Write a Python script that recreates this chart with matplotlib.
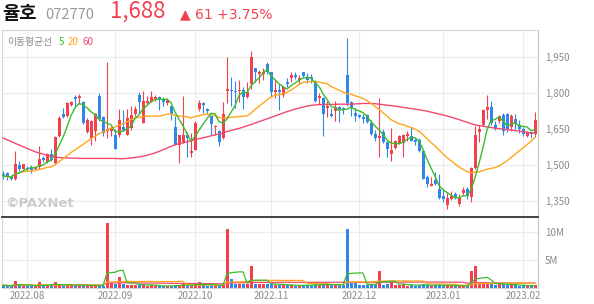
import matplotlib
matplotlib.use("Agg")
import matplotlib.pyplot as plt
import numpy as np
import pandas as pd

plt.rcParams['font.family'] = ['Noto Sans CJK KR', 'DejaVu Sans']

# daily OHLC, 2022-07-22 .. 2023-02-06
opens = [1464, 1467, 1454, 1443, 1499, 1483, 1488, 1491, 1481, 1492,
         1530, 1511, 1544, 1506, 1619, 1713, 1704, 1750, 1784, 1778,
         1763, 1637, 1612, 1640, 1785, 1699, 1640, 1640, 1626, 1626,
         1658, 1626, 1652, 1711, 1792, 1675, 1756, 1764, 1774, 1781,
         1774, 1756, 1746, 1657, 1584, 1595, 1623, 1549, 1563, 1732,
         1756, 1733, 1704, 1658, 1640, 1612, 1806, 1812, 1809, 1806,
         1812, 1784, 1837, 1905, 1880, 1877, 1919, 1887, 1805, 1812,
         1792, 1844, 1861, 1873, 1854, 1889, 1863, 1866, 1851, 1778,
         1778, 1736, 1713, 1725, 1742, 1736, 1873, 1764, 1718, 1708,
         1699, 1708, 1675, 1629, 1612, 1637, 1594, 1544, 1570, 1591,
         1591, 1619, 1619, 1605, 1605, 1556, 1450, 1412, 1436, 1401,
         1370, 1333, 1359, 1380, 1338, 1384, 1401, 1366, 1488, 1637,
         1666, 1728, 1742, 1666, 1683, 1708, 1711, 1657, 1690, 1668,
         1651, 1622, 1637, 1627]
highs = [1475, 1470, 1460, 1560, 1518, 1505, 1494, 1499, 1496, 1577,
         1537, 1551, 1567, 1622, 1702, 1739, 1760, 1767, 1792, 1795,
         1767, 1697, 1685, 1718, 1798, 1704, 1929, 1662, 1651, 1732,
         1728, 1732, 1746, 1746, 1802, 1809, 1788, 1809, 1792, 1788,
         1781, 1778, 1746, 1704, 1623, 1788, 1637, 1633, 1683, 1770,
         1760, 1739, 1704, 1668, 1647, 1764, 1950, 1868, 1851, 1854,
         1823, 1844, 1975, 1905, 1896, 1905, 1927, 1887, 1854, 1837,
         1830, 1863, 1887, 1887, 1875, 1889, 1884, 1877, 1854, 1798,
         1784, 1767, 1739, 1767, 1746, 1742, 2030, 1767, 1739, 1713,
         1713, 1711, 1685, 1647, 1778, 1651, 1601, 1654, 1605, 1623,
         1629, 1640, 1657, 1612, 1612, 1556, 1457, 1450, 1471, 1464,
         1394, 1387, 1390, 1387, 1380, 1408, 1408, 1492, 1661, 1668,
         1732, 1792, 1767, 1683, 1708, 1718, 1718, 1713, 1711, 1685,
         1657, 1640, 1643, 1722]
lows = [1443, 1436, 1436, 1436, 1474, 1481, 1476, 1468, 1477, 1485,
        1511, 1506, 1516, 1502, 1615, 1694, 1700, 1746, 1746, 1753,
        1671, 1633, 1581, 1598, 1683, 1619, 1612, 1619, 1567, 1616,
        1640, 1623, 1647, 1704, 1713, 1675, 1753, 1760, 1767, 1728,
        1746, 1750, 1688, 1584, 1506, 1591, 1535, 1535, 1563, 1725,
        1718, 1718, 1623, 1623, 1577, 1609, 1756, 1746, 1739, 1760,
        1732, 1778, 1816, 1844, 1840, 1854, 1880, 1781, 1778, 1729,
        1784, 1826, 1844, 1858, 1837, 1866, 1840, 1840, 1764, 1753,
        1619, 1699, 1699, 1683, 1680, 1711, 1746, 1704, 1683, 1694,
        1675, 1675, 1626, 1601, 1535, 1591, 1535, 1516, 1567, 1587,
        1535, 1598, 1598, 1581, 1553, 1440, 1408, 1412, 1415, 1359,
        1347, 1316, 1352, 1359, 1330, 1376, 1359, 1347, 1483, 1595,
        1661, 1690, 1668, 1647, 1675, 1623, 1637, 1640, 1651, 1633,
        1619, 1615, 1612, 1615]
closes = [1454, 1450, 1443, 1502, 1481, 1502, 1483, 1478, 1492, 1525,
          1519, 1544, 1520, 1616, 1697, 1699, 1756, 1761, 1774, 1788,
          1675, 1689, 1683, 1713, 1690, 1633, 1651, 1651, 1567, 1689,
          1644, 1697, 1708, 1732, 1764, 1767, 1767, 1784, 1781, 1770,
          1764, 1770, 1713, 1584, 1623, 1623, 1612, 1556, 1675, 1756,
          1749, 1725, 1671, 1664, 1595, 1713, 1816, 1806, 1802, 1813,
          1781, 1802, 1950, 1887, 1889, 1885, 1887, 1802, 1812, 1805,
          1826, 1835, 1873, 1866, 1863, 1871, 1854, 1856, 1767, 1788,
          1713, 1746, 1704, 1742, 1732, 1728, 1756, 1739, 1704, 1699,
          1690, 1680, 1629, 1612, 1619, 1595, 1567, 1561, 1601, 1619,
          1623, 1629, 1601, 1595, 1556, 1443, 1422, 1422, 1422, 1361,
          1359, 1361, 1369, 1366, 1361, 1397, 1370, 1488, 1623, 1651,
          1728, 1742, 1675, 1651, 1704, 1643, 1647, 1704, 1671, 1651,
          1629, 1636, 1627, 1688]
# volume in millions of shares
volumes = [0.5, 0.4, 0.3, 1.2, 0.5, 0.4, 0.3, 0.4, 0.3, 1.0,
           0.4, 0.5, 0.4, 1.1, 0.6, 0.4, 0.5, 0.6, 0.4, 0.6,
           0.5, 0.4, 0.5, 0.4, 0.5, 0.3, 11.7, 0.9, 0.8, 1.9,
           0.8, 0.6, 0.6, 0.5, 0.6, 0.7, 0.4, 0.5, 0.4, 0.3,
           0.3, 0.4, 0.4, 0.6, 0.5, 0.7, 0.4, 0.3, 0.9, 1.0,
           0.5, 0.4, 0.5, 0.4, 0.5, 0.7, 10.6, 1.6, 0.8, 0.8,
           0.7, 0.8, 3.9, 0.8, 0.8, 0.7, 0.8, 0.8, 0.5, 0.6,
           0.5, 0.5, 0.6, 0.4, 0.4, 0.6, 0.5, 0.5, 0.7, 0.5,
           0.9, 0.6, 0.5, 0.6, 0.5, 0.5, 10.7, 0.85, 0.9, 0.6,
           0.5, 0.6, 0.6, 0.7, 3.0, 0.6, 0.8, 1.0, 0.6, 0.5,
           0.7, 0.4, 0.6, 0.4, 0.5, 0.7, 0.5, 0.4, 0.5, 0.6,
           0.4, 0.5, 0.4, 0.3, 0.4, 0.3, 0.4, 3.1, 3.9, 0.9,
           0.9, 0.8, 0.9, 0.6, 0.7, 0.8, 0.6, 0.5, 0.5, 0.4,
           0.5, 0.3, 0.4, 0.6]
# 60-day moving average as drawn (needs history before the window)
ma60 = [1612, 1605, 1598, 1590, 1583, 1576, 1569, 1562, 1555, 1550,
        1545, 1540, 1536, 1533, 1531, 1530, 1529, 1528, 1528, 1527,
        1527, 1527, 1527, 1527, 1527, 1527, 1527, 1527, 1527, 1526,
        1526, 1527, 1529, 1531, 1533, 1536, 1540, 1545, 1550, 1556,
        1563, 1570, 1577, 1584, 1588, 1592, 1596, 1600, 1605, 1609,
        1613, 1617, 1621, 1625, 1629, 1634, 1639, 1643, 1648, 1652,
        1657, 1663, 1668, 1674, 1680, 1686, 1692, 1698, 1704, 1710,
        1716, 1722, 1727, 1732, 1737, 1741, 1745, 1748, 1750, 1751,
        1752, 1752, 1752, 1752, 1753, 1753, 1753, 1753, 1754, 1755,
        1756, 1756, 1756, 1755, 1753, 1751, 1749, 1747, 1745, 1742,
        1740, 1737, 1735, 1732, 1730, 1727, 1724, 1720, 1716, 1712,
        1708, 1704, 1699, 1694, 1689, 1683, 1678, 1672, 1667, 1664,
        1661, 1658, 1656, 1653, 1651, 1649, 1647, 1645, 1643, 1641,
        1638, 1636, 1633, 1631]

tick_pos = [6, 28, 48, 67, 89, 110, 130]
tick_labels = ['2022.08', '2022.09', '2022.10', '2022.11', '2022.12', '2023.01', '2023.02']
price_ticks = [1350, 1500, 1650, 1800, 1950]
vol_ticks = [5, 10]

RED = '#f2404f'
BLUE = '#2f88e8'
GREEN = '#3cbc2c'
ORANGE = '#ffa51e'
PINK = '#f04a6e'
GRID = '#ececec'
TXT = '#8a8a8a'

df = pd.DataFrame({'o': opens, 'h': highs, 'l': lows, 'c': closes, 'v': volumes})
idx = np.arange(len(df))
up = df['c'] >= df['o']
cols = np.where(up, RED, BLUE)
ma5 = df['c'].rolling(5, min_periods=1).mean()
ma20 = df['c'].rolling(20, min_periods=1).mean()
vma5 = df['v'].rolling(5, min_periods=1).mean()
vma20 = df['v'].rolling(20, min_periods=1).mean()
vma60 = df['v'].rolling(60, min_periods=1).mean()

W, H = 594, 304
fig = plt.figure(figsize=(W / 100, H / 100), dpi=100)

def box(x0, y0, x1, y1):
    return [x0 / W, 1 - y1 / H, (x1 - x0) / W, (y1 - y0) / H]

ax = fig.add_axes(box(2, 30, 538, 217))
axv = fig.add_axes(box(2, 218, 538, 288))

xlim = (-0.25, len(df) - 0.25)

# price panel
ax.vlines(idx, df['l'], df['h'], colors=cols, linewidth=0.8, zorder=3)
body = (df['c'] - df['o']).abs().clip(lower=2)
ax.bar(idx, body, bottom=df[['o', 'c']].min(axis=1), width=0.75, color=cols, zorder=3)
ax.plot(idx, ma60, color=PINK, linewidth=1.0, zorder=4)
ax.plot(idx, ma20, color=ORANGE, linewidth=1.0, zorder=4)
ax.plot(idx, ma5, color=GREEN, linewidth=1.0, zorder=4)
ax.set_xlim(*xlim)
ax.set_ylim(1283, 2062)
ax.set_yticks(price_ticks)
ax.set_yticklabels(['{:,}'.format(t) for t in price_ticks])
ax.set_xticks(tick_pos)
ax.tick_params(axis='x', length=0, labelbottom=False)
ax.yaxis.tick_right()
ax.tick_params(axis='y', length=0, pad=5, labelsize=7, labelcolor=TXT)
ax.grid(True, color=GRID, linewidth=0.8, zorder=0)
ax.set_axisbelow(True)
for s in ['top', 'left']:
    ax.spines[s].set_color('#d6d6d6')
ax.spines['right'].set_color('#c4c4c4')
ax.spines['bottom'].set_color('#333333')
ax.spines['bottom'].set_linewidth(1.3)

ax.text(0.01, 0.965, '이동평균선', transform=ax.transAxes, fontsize=7, color=TXT, va='top')
ax.text(0.106, 0.965, '5', transform=ax.transAxes, fontsize=7, color=GREEN, va='top')
ax.text(0.123, 0.965, '20', transform=ax.transAxes, fontsize=7, color=ORANGE, va='top')
ax.text(0.151, 0.965, '60', transform=ax.transAxes, fontsize=7, color=PINK, va='top')
ax.text(0.006, 0.035, '©PAXNet', transform=ax.transAxes, fontsize=9.5, color='#cccccc',
        weight='bold', family='DejaVu Sans', va='bottom')

# volume panel
axv.bar(idx, df['v'], width=0.75, color=cols, zorder=3)
axv.plot(idx, vma60, color=PINK, linewidth=0.9, zorder=4)
axv.plot(idx, vma20, color=ORANGE, linewidth=0.9, zorder=4)
axv.plot(idx, vma5, color=GREEN, linewidth=0.9, zorder=4)
axv.set_xlim(*xlim)
axv.set_ylim(0, 12.6)
axv.set_yticks(vol_ticks)
axv.set_yticklabels(['{}M'.format(t) for t in vol_ticks])
axv.set_xticks(tick_pos)
axv.set_xticklabels(tick_labels)
axv.yaxis.tick_right()
axv.tick_params(axis='y', length=0, pad=5, labelsize=7, labelcolor=TXT)
axv.tick_params(axis='x', length=0, pad=2, labelsize=7, labelcolor=TXT)
axv.grid(True, color=GRID, linewidth=0.8, zorder=0)
axv.set_axisbelow(True)
axv.spines['top'].set_visible(False)
axv.spines['left'].set_color('#d6d6d6')
axv.spines['bottom'].set_color('#d6d6d6')
axv.spines['right'].set_color('#c4c4c4')

# header
fig.text(2 / W, 1 - 19 / H, '율호', fontsize=13.5, weight='bold', color='#111111', va='baseline')
fig.text(45 / W, 1 - 19 / H, '072770', fontsize=10.5, color='#999999', va='baseline')
fig.text(110 / W, 1 - 18 / H, '{:,}'.format(closes[-1]), fontsize=16, color=RED, va='baseline')
chg = closes[-1] - closes[-2]
fig.text(180 / W, 1 - 18 / H, '▲ {} +{:.2f}%'.format(chg, chg / closes[-2] * 100),
         fontsize=10, color=RED, va='baseline', family=['DejaVu Sans'])

fig.savefig('out.png', dpi=100)
